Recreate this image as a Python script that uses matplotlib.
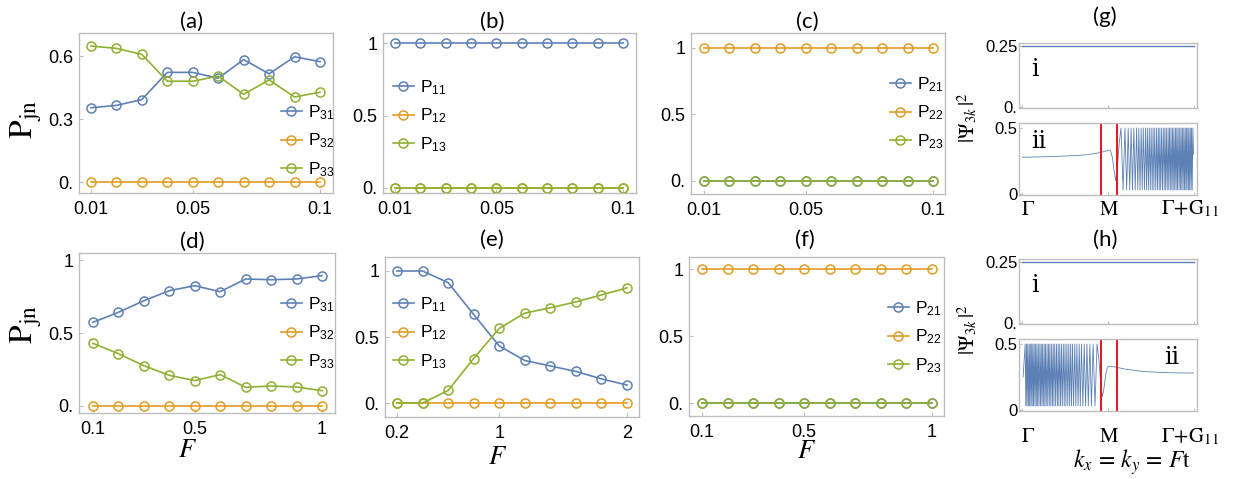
import matplotlib
matplotlib.use('Agg')
import matplotlib.pyplot as plt
import numpy as np

plt.rcParams['font.family'] = ['Liberation Sans', 'DejaVu Sans']
plt.rcParams['mathtext.fontset'] = 'stix'

BLUE = '#5e81b5'
ORANGE = '#e19c24'
GREEN = '#8fb032'
FRAME = '#bdbdbd'

# ---- data: top row (small F) ----
F_small = [0.01, 0.02, 0.03, 0.04, 0.05, 0.06, 0.07, 0.08, 0.09, 0.1]
a_P31 = [0.355, 0.366, 0.394, 0.523, 0.523, 0.495, 0.584, 0.516, 0.597, 0.574]
a_P32 = [0, 0, 0, 0, 0, 0, 0, 0, 0, 0]
a_P33 = [0.648, 0.637, 0.608, 0.481, 0.481, 0.505, 0.419, 0.487, 0.406, 0.429]
b_P11 = [1, 1, 1, 1, 1, 1, 1, 1, 1, 1]
b_P12 = [0, 0, 0, 0, 0, 0, 0, 0, 0, 0]
b_P13 = [0, 0, 0, 0, 0, 0, 0, 0, 0, 0]
c_P21 = [0, 0, 0, 0, 0, 0, 0, 0, 0, 0]
c_P22 = [1, 1, 1, 1, 1, 1, 1, 1, 1, 1]
c_P23 = [0, 0, 0, 0, 0, 0, 0, 0, 0, 0]

# ---- data: bottom row (large F) ----
F_d = [0.1, 0.2, 0.3, 0.4, 0.5, 0.6, 0.7, 0.8, 0.9, 1.0]
d_P31 = [0.573, 0.642, 0.721, 0.790, 0.824, 0.783, 0.870, 0.865, 0.870, 0.893]
d_P32 = [0, 0, 0, 0, 0, 0, 0, 0, 0, 0]
d_P33 = [0.429, 0.358, 0.276, 0.210, 0.174, 0.215, 0.128, 0.137, 0.130, 0.105]
F_e = [0.2, 0.4, 0.6, 0.8, 1.0, 1.2, 1.4, 1.6, 1.8, 2.0]
e_P11 = [1.0, 1.0, 0.912, 0.671, 0.432, 0.322, 0.281, 0.239, 0.183, 0.136]
e_P12 = [0, 0, 0, 0, 0, 0, 0, 0, 0, 0]
e_P13 = [0, 0, 0.095, 0.337, 0.565, 0.681, 0.721, 0.766, 0.819, 0.872]
F_f = [0.1, 0.2, 0.3, 0.4, 0.5, 0.6, 0.7, 0.8, 0.9, 1.0]
f_P21 = [0, 0, 0, 0, 0, 0, 0, 0, 0, 0]
f_P22 = [1, 1, 1, 1, 1, 1, 1, 1, 1, 1]
f_P23 = [0, 0, 0, 0, 0, 0, 0, 0, 0, 0]

# ---- data: |psi_3k|^2 along k (0 = Gamma, 0.5 = M, 1 = Gamma+G11) ----
psi_i_k = [0.0, 1.0]
psi_i_val = [0.25, 0.25]
red_lines = [0.462, 0.552]
osc_peak = 0.5
osc_trough = 0.03

g_smooth_k = [0.0, 0.1, 0.2, 0.3, 0.38, 0.44, 0.48, 0.505, 0.515, 0.525, 0.535, 0.545, 0.555, 0.565]
g_smooth_v = [0.278, 0.281, 0.285, 0.29, 0.298, 0.31, 0.322, 0.333, 0.328, 0.28, 0.18, 0.1, 0.2, 0.38]
g_peaks = [0.576, 0.599, 0.618, 0.635, 0.651, 0.667, 0.680, 0.694, 0.706, 0.719, 0.730,
           0.741, 0.752, 0.763, 0.773, 0.784, 0.794, 0.803, 0.813, 0.823, 0.832, 0.841,
           0.851, 0.859, 0.868, 0.877, 0.885, 0.894, 0.902, 0.910, 0.919, 0.927, 0.935,
           0.943, 0.951, 0.958, 0.966, 0.973, 0.981, 0.988, 0.996]
g_troughs = [0.588, 0.609, 0.627, 0.643, 0.659, 0.674, 0.687, 0.700, 0.713, 0.725, 0.736,
             0.747, 0.758, 0.768, 0.779, 0.789, 0.799, 0.808, 0.818, 0.828, 0.837, 0.846,
             0.855, 0.864, 0.873, 0.881, 0.890, 0.898, 0.906, 0.915, 0.923, 0.931, 0.939,
             0.947, 0.955, 0.962, 0.970, 0.977, 0.985, 0.992]

h_peaks = [0.016, 0.024, 0.031, 0.039, 0.046, 0.054, 0.061, 0.069, 0.077, 0.085, 0.093,
           0.102, 0.110, 0.118, 0.127, 0.135, 0.144, 0.153, 0.161, 0.171, 0.180, 0.189,
           0.199, 0.209, 0.218, 0.228, 0.239, 0.249, 0.260, 0.271, 0.282, 0.293, 0.306,
           0.318, 0.332, 0.345, 0.361, 0.377, 0.394, 0.413, 0.436]
h_troughs = [0.020, 0.027, 0.035, 0.042, 0.050, 0.057, 0.065, 0.073, 0.081, 0.089, 0.097,
             0.106, 0.114, 0.122, 0.131, 0.139, 0.148, 0.157, 0.166, 0.175, 0.184, 0.194,
             0.204, 0.213, 0.223, 0.233, 0.244, 0.254, 0.265, 0.276, 0.287, 0.299, 0.312,
             0.325, 0.338, 0.353, 0.369, 0.385, 0.403, 0.424]
h_smooth_k = [0.447, 0.457, 0.467, 0.477, 0.487, 0.497, 0.507, 0.54, 0.6, 0.7, 0.8, 0.9, 1.0]
h_smooth_v = [0.38, 0.2, 0.1, 0.17, 0.27, 0.325, 0.332, 0.326, 0.31, 0.292, 0.285, 0.281, 0.28]


def zigzag(peaks, troughs):
    x = np.empty(len(peaks) + len(troughs))
    y = np.empty_like(x)
    x[0::2], x[1::2] = peaks, troughs
    y[0::2], y[1::2] = osc_peak, osc_trough
    return x, y


W, H = 1233, 479
fig = plt.figure(figsize=(W / 100, H / 100), dpi=100)


def box(l, t, r, b):
    return fig.add_axes([l / W, 1 - b / H, (r - l) / W, (b - t) / H])


def style(ax):
    for s in ax.spines.values():
        s.set_color(FRAME)
        s.set_linewidth(1.0)
    ax.tick_params(direction='in', length=3, color=FRAME, labelsize=13, pad=4)


def ptitle(x, y, s):
    fig.text(x / W, 1 - y / H, s, ha='center', va='center', fontsize=16, family='Lato')


def prob_panel(l, t, r, b, F, series, names, xlim, ylim, xt, xtl, yt, ytl, leg_xy):
    ax = box(l, t, r, b)
    style(ax)
    hs = []
    for vals, col in zip(series, [BLUE, ORANGE, GREEN]):
        h, = ax.plot(F, vals, '-o', color=col, lw=1.2, ms=6.5, mfc='none', mew=1.1)
        hs.append(h)
    ax.set_xlim(*xlim)
    ax.set_ylim(*ylim)
    ax.set_xticks(xt, xtl)
    ax.set_yticks(yt, ytl)
    ax.tick_params(axis='x', pad=6)
    labels = [r'$\mathregular{P_{%s}}$' % n for n in names]
    ax.legend(hs, labels, loc='center left', bbox_to_anchor=(leg_xy[0] / W, 1 - leg_xy[1] / H),
              bbox_transform=fig.transFigure, frameon=False, fontsize=12.5,
              handlelength=1.2, handletextpad=0.35, labelspacing=0.55,
              borderpad=0, borderaxespad=0)
    return ax


xt_small = [0.01, 0.05, 0.1]
xtl_small = ['0.01', '0.05', '0.1']

prob_panel(79, 33, 333, 193, F_small, [a_P31, a_P32, a_P33], ['31', '32', '33'],
           (0.0053, 0.1051), (-0.05, 0.71), xt_small, xtl_small,
           [0, 0.3, 0.6], ['0.', '0.3', '0.6'], (281, 141))
prob_panel(383, 33, 636, 193, F_small, [b_P11, b_P12, b_P13], ['11', '12', '13'],
           (0.0053, 0.1051), (-0.035, 1.07), xt_small, xtl_small,
           [0, 0.5, 1], ['0.', '0.5', '1'], (393, 116))
prob_panel(691, 33, 945, 194, F_small, [c_P21, c_P22, c_P23], ['21', '22', '23'],
           (0.0049, 0.1047), (-0.098, 1.11), xt_small, xtl_small,
           [0, 0.5, 1], ['0.', '0.5', '1'], (890, 113))
prob_panel(79, 253, 335, 413, F_d, [d_P31, d_P32, d_P33], ['31', '32', '33'],
           (0.045, 1.051), (-0.048, 1.048), [0.1, 0.5, 1], ['0.1', '0.5', '1'],
           [0, 0.5, 1], ['0.', '0.5', '1'], (281, 333))
prob_panel(385, 257, 639, 417, F_e, [e_P11, e_P12, e_P13], ['11', '12', '13'],
           (0.106, 2.094), (-0.106, 1.106), [0.2, 1, 2], ['0.2', '1', '2'],
           [0, 0.5, 1], ['0.', '0.5', '1'], (393, 333))
prob_panel(689, 257, 944, 416, F_f, [f_P21, f_P22, f_P23], ['21', '22', '23'],
           (0.049, 1.047), (-0.097, 1.09), [0.1, 0.5, 1], ['0.1', '0.5', '1'],
           [0, 0.5, 1], ['0.', '0.5', '1'], (888, 337))

for x, y, s in [(192, 22, '(a)'), (492, 22, '(b)'), (807, 22, '(c)'), (1105, 17, '(g)'),
                (192, 242, '(d)'), (492, 240, '(e)'), (805, 240, '(f)'), (1105, 240, '(h)')]:
    ptitle(x, y, s)

for y in (120, 325):
    fig.text(26 / W, 1 - y / H, r'$\mathrm{P_{jn}}$', rotation=90, ha='center', va='center', fontsize=24)
for x, y in [(188, 450), (498, 457), (807, 451)]:
    fig.text(x / W, 1 - y / H, r'$F$', ha='center', va='center', fontsize=19)


# ---- |psi|^2 panels ----
def psi_pair(top, curve_x, curve_y, ii_xy, psi_label_y, tick_y):
    ax1 = box(1019, top, 1197, top + 65)
    style(ax1)
    ax1.plot(psi_i_k, psi_i_val, color=BLUE, lw=1.0)
    ax1.set_xlim(-0.02, 1.02)
    ax1.set_ylim(-0.004, 0.262)
    ax1.set_yticks([0, 0.25], ['0.', '0.25'])
    ax1.set_xticks([0, 0.5, 1], ['', '', ''])
    ax1.tick_params(labelsize=12, pad=1, length=2)
    ax1.text(0.09, 0.6, 'i', transform=ax1.transAxes, fontsize=17, family='DejaVu Serif',
             ha='center', va='center')

    ax2 = box(1019, top + 80, 1197, top + 152)
    style(ax2)
    ax2.plot(curve_x, curve_y, color=BLUE, lw=0.6)
    for k in red_lines:
        ax2.axvline(k, color='#e8141b', lw=1.4)
    ax2.set_xlim(-0.02, 1.02)
    ax2.set_ylim(-0.008, 0.538)
    ax2.set_yticks([0, 0.5], ['0', '0.5'])
    ax2.set_xticks([0, 0.5, 1], ['', '', ''])
    ax2.tick_params(labelsize=12, pad=1, length=2)
    ax2.text(ii_xy[0], ii_xy[1], 'ii', transform=ax2.transAxes, fontsize=17,
             family='DejaVu Serif', ha='center', va='center')
    for x, s in [(1028, r'$\Gamma$'), (1109, r'$\mathrm{M}$'), (1190, r'$\Gamma\!+\!\mathrm{G}_{11}$')]:
        fig.text(x / W, 1 - tick_y / H, s, ha='center', va='center', fontsize=15)
    fig.text(968 / W, 1 - psi_label_y / H, r'$|\Psi_{3k}\,|^2$', rotation=90,
             ha='center', va='center', fontsize=15)


gx, gy = zigzag(g_peaks, g_troughs)
g_x = np.concatenate([g_smooth_k, gx, [1.0]])
g_y = np.concatenate([g_smooth_v, gy, [0.3]])
hx, hy = zigzag(h_peaks, h_troughs)
h_x = np.concatenate([[0.004], hx, h_smooth_k])
h_y = np.concatenate([[0.25], hy, h_smooth_v])

psi_pair(43, g_x, g_y, (0.11, 0.75), 118, 209)
psi_pair(259, h_x, h_y, (0.86, 0.75), 330, 437)

fig.text(1132 / W, 2 / H, r'$k_x\,=\,k_y\,=\,F\mathrm{t}$', ha='center', va='bottom', fontsize=17)

fig.savefig('out.png', dpi=100)
